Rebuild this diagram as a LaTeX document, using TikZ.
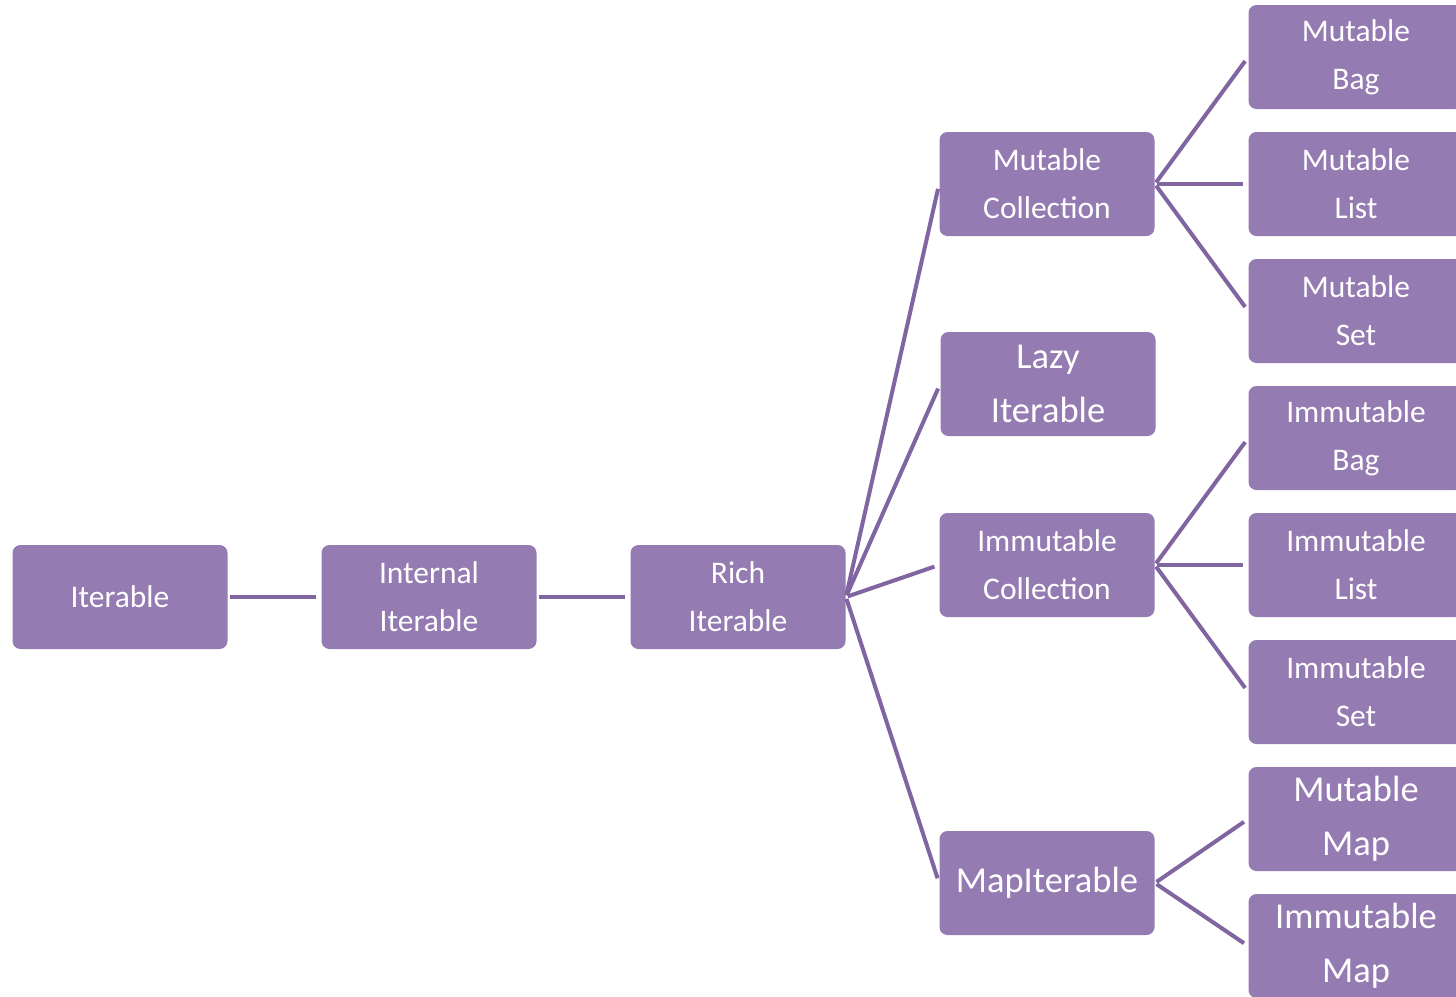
\documentclass[tikz,border=0pt]{standalone}
\usepackage{fontspec}
\setmainfont{Carlito}
\usepackage{tikz}
\usetikzlibrary{positioning,calc}
\definecolor{boxpurple}{RGB}{148,123,178}
\definecolor{linkpurple}{RGB}{128,101,161}

\begin{document}
\begin{tikzpicture}[x=0.5pt, y=-0.5pt,
    kind/.style={rectangle, rounded corners=4pt, fill=boxpurple, text=white,
                 minimum width=107.5pt, minimum height=52pt, inner sep=0pt, align=center,
                 font=\fontsize{15.75}{24}\selectfont},
    bigkind/.style={kind, font=\fontsize{18.25}{27}\selectfont},
    link/.style={draw=linkpurple, line width=2pt, shorten <=1pt, shorten >=2.5pt}]
        \useasboundingbox (0,0) rectangle (1456,996);
        \clip (0,0) rectangle (1456,996);
        % main chain
        \node[kind] (iter) at (120,597) {Iterable};
        \node[kind] (internal) at (429,597) {Internal\\Iterable};
        \node[kind] (rich) at (738,597) {Rich\\Iterable};
        % middle column
        \node[kind] (mcoll) at (1047,184) {Mutable\\Collection};
        \node[bigkind] (lazy) at (1048,384) {Lazy\\Iterable};
        \node[kind] (icoll) at (1047,565) {Immutable\\Collection};
        \node[bigkind] (mapit) at (1047,883) {MapIterable};
        % right column, cut by the page edge
        \foreach \n/\t/\y in {mbag/Mutable\\Bag/57, mlist/Mutable\\List/184, mset/Mutable\\Set/311,
                              ibag/Immutable\\Bag/438, ilist/Immutable\\List/565, iset/Immutable\\Set/692}{
          \node[kind] (\n) at (1356,\y) {\t};}
        \foreach \n/\t/\y in {mmap/Mutable\\Map/819, imap/Immutable\\Map/946}{
          \node[bigkind] (\n) at (1356,\y) {\t};}
        % connectors
        \draw[link] (iter.east) -- (internal.west);
        \draw[link] (internal.east) -- (rich.west);
        \foreach \c in {mcoll,lazy,icoll,mapit}{\draw[link] (rich.east) -- (\c.west);}
        \foreach \c in {mbag,mlist,mset}{\draw[link] (mcoll.east) -- (\c.west);}
        \foreach \c in {ibag,ilist,iset}{\draw[link] (icoll.east) -- (\c.west);}
        \foreach \c in {mmap,imap}{\draw[link] (mapit.east) -- (\c.west);}
      \end{tikzpicture}
\end{document}
